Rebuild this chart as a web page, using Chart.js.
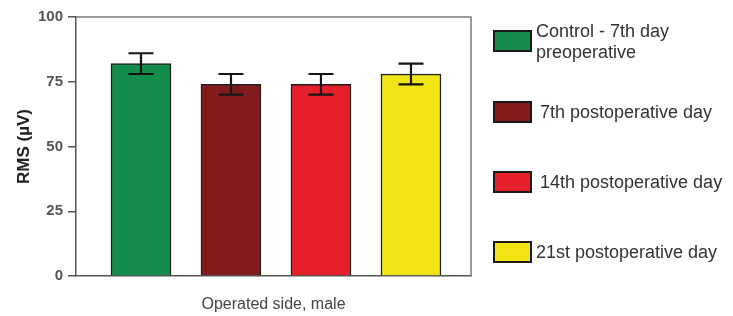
<!DOCTYPE html>
<html>
<head>
<meta charset="utf-8">
<script src="https://cdn.jsdelivr.net/npm/chart.js@4/dist/chart.umd.min.js"></script>
<style>
  html, body { margin: 0; padding: 0; background: #fff; }
  #wrap { position: relative; width: 733px; height: 316px; overflow: hidden; }
  #c { position: absolute; left: 0; top: 0; }
  .leg { position: absolute; font-family: "Liberation Sans", Arial, sans-serif; font-size: 18px; color: #333; line-height: 21px; white-space: nowrap; }
  .box { position: absolute; width: 35px; height: 18px; border: 2px solid #1a1a1a; }
</style>
</head>
<body>
<div id="wrap">
  <canvas id="c" width="733" height="316"></canvas>
  <div id="legend"></div>
</div>
<script>
// ---- data ----
const categories = ['Control - 7th day\npreoperative', '7th postoperative day', '14th postoperative day', '21st postoperative day'];
const rmsMeans = [82, 74, 74, 78];
const rmsErrors = [4, 4, 4, 4];
const barColors = ['#138c4c', '#821c1c', '#e5202a', '#f2e414'];
const yTicks = [0, 25, 50, 75, 100];
const yTitle = 'RMS (µV)';
const xTitle = 'Operated side, male';

// ---- legend (HTML) ----
const legend = document.getElementById('legend');
const legTops = [30, 101, 171, 241];
categories.forEach((name, i) => {
  const b = document.createElement('div');
  b.className = 'box';
  b.style.left = '493px';
  b.style.top = legTops[i] + 'px';
  b.style.background = barColors[i];
  legend.appendChild(b);
  const t = document.createElement('div');
  t.className = 'leg';
  const lines = name.split('\n');
  t.innerHTML = lines.join('<br>');
  t.style.left = (i === 0 || i === 3 ? 536 : 540) + 'px';
  const center = legTops[i] + 11;
  t.style.top = (lines.length > 1 ? center - 20 : center - 10.5) + 'px';
  legend.appendChild(t);
});

// ---- error bar + frame plugin ----
const extras = {
  id: 'extras',
  afterDatasetsDraw(chart) {
    const ctx = chart.ctx;
    const ys = chart.scales.y;
    const meta = chart.getDatasetMeta(0);
    ctx.save();
    ctx.strokeStyle = '#151515';
    ctx.lineWidth = 2.2;
    meta.data.forEach((bar, i) => {
      const x = bar.x;
      const top = ys.getPixelForValue(rmsMeans[i] + rmsErrors[i]);
      const bot = ys.getPixelForValue(rmsMeans[i] - rmsErrors[i]);
      ctx.beginPath();
      ctx.moveTo(x, top); ctx.lineTo(x, bot);
      ctx.moveTo(x - 12.5, top); ctx.lineTo(x + 12.5, top);
      ctx.moveTo(x - 12.5, bot); ctx.lineTo(x + 12.5, bot);
      ctx.stroke();
    });
    const a = chart.chartArea;
    ctx.strokeStyle = '#7a7a7a';
    ctx.lineWidth = 1.5;
    ctx.beginPath();
    ctx.moveTo(a.left, a.top); ctx.lineTo(a.right, a.top); ctx.lineTo(a.right, a.bottom);
    ctx.stroke();
    ctx.restore();
  }
};

new Chart(document.getElementById('c'), {
  type: 'bar',
  data: {
    datasets: [{
      data: rmsMeans.map((v, i) => ({ x: i + 1, y: v })),
      backgroundColor: barColors,
      borderColor: '#1e1e1e',
      borderWidth: 1.5,
      barThickness: 60
    }]
  },
  options: {
    responsive: false,
    animation: false,
    layout: { padding: { left: 0, right: 262, top: 17, bottom: 0 } },
    plugins: { legend: { display: false }, tooltip: { enabled: false } },
    scales: {
      x: {
        type: 'linear',
        min: 0.278,
        max: 4.667,
        offset: false,
        grid: { display: false },
        border: { display: true, color: '#555', width: 1.5 },
        ticks: { display: false },
        title: {
          display: true, text: xTitle, color: '#444',
          font: { family: 'Liberation Sans', size: 16, lineHeight: 1.2 },
          padding: { top: 0, bottom: 2 }
        },
        afterFit(s) { s.height = 40; }
      },
      y: {
        min: 0, max: 100,
        afterBuildTicks(s) { s.ticks = yTicks.map(v => ({ value: v })); },
        grid: { drawOnChartArea: false, tickLength: 8, color: '#555', lineWidth: 1.5 },
        border: { display: true, color: '#555', width: 1.5 },
        ticks: {
          color: '#555', padding: 5,
          font: { family: 'Liberation Sans', size: 15, weight: 'bold' }
        },
        title: {
          display: true, text: yTitle, color: '#222',
          font: { family: 'Liberation Sans', size: 17, weight: 'bold', lineHeight: 1.2 },
          padding: { top: 14, bottom: 0 }
        },
        afterFit(s) { s.width = 76; }
      }
    }
  },
  plugins: [extras]
});
</script>
</body>
</html>
